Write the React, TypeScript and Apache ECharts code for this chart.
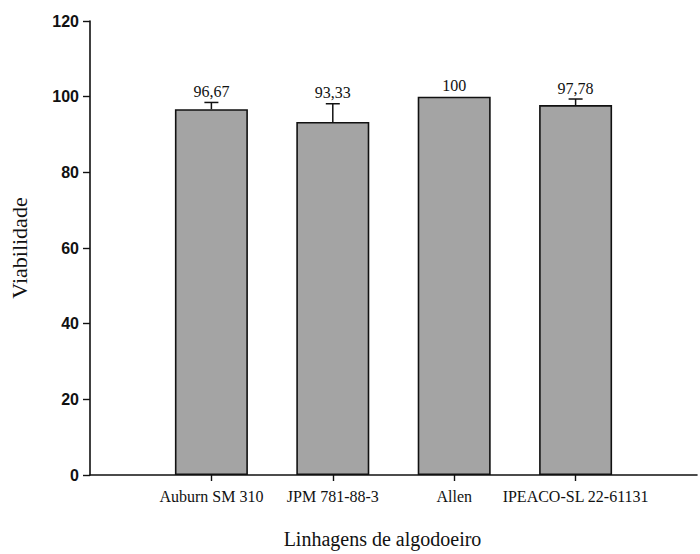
import React, { useEffect, useRef } from "react";
import * as echarts from "echarts";

// Data
const categories = ["", "Auburn SM 310", "JPM 781-88-3", "Allen", "IPEACO-SL 22-61131", ""];
const viability: (number | null)[] = [null, 96.67, 93.33, 100, 97.78, null];
const errorUp: (number | null)[] = [null, 1.8, 4.8, 0, 1.6, null];
const valueLabels = ["", "96,67", "93,33", "100", "97,78", ""];
const yMin = 0;
const yMax = 120;
const yStep = 20;
const xAxisTitle = "Linhagens de algodoeiro";
const yAxisTitle = "Viabilidade";

export default function App() {
  const ref = useRef<HTMLDivElement>(null);

  useEffect(() => {
    document.body.style.margin = "0";
    if (!ref.current) return;
    const chart = echarts.init(ref.current, null, { renderer: "svg" });

    const errData: any[] = [];
    viability.forEach((v, i) => {
      if (v !== null) errData.push([i, v, errorUp[i] ?? 0, i]);
    });

    const serif = "'Liberation Serif', 'Times New Roman', serif";
    const sans = "'Liberation Sans', Arial, sans-serif";

    chart.setOption({
      animation: false,
      backgroundColor: "#ffffff",
      grid: { left: 88, right: 3, top: 21, bottom: 78, containLabel: false },
      xAxis: {
        type: "category",
        data: categories,
        boundaryGap: false,
        name: xAxisTitle,
        nameLocation: "middle",
        nameGap: 54,
        nameTextStyle: {
          fontFamily: serif,
          fontSize: 20,
          color: "#111",
          padding: [0, 22, 0, 0],
        },
        axisLine: { show: true, lineStyle: { color: "#111", width: 1.6 } },
        axisTick: {
          show: true,
          length: 6,
          interval: (idx: number) => idx >= 1 && idx <= 4,
          lineStyle: { color: "#111", width: 1.4 },
        },
        axisLabel: {
          interval: 0,
          margin: 13,
          fontFamily: serif,
          fontSize: 16,
          color: "#111",
        },
        splitLine: { show: false },
      },
      yAxis: {
        type: "value",
        min: yMin,
        max: yMax,
        interval: yStep,
        name: yAxisTitle,
        nameLocation: "middle",
        nameGap: 60,
        nameTextStyle: { fontFamily: serif, fontSize: 22, color: "#111" },
        axisLine: { show: true, lineStyle: { color: "#111", width: 1.6 } },
        axisTick: { show: true, length: 7, lineStyle: { color: "#111", width: 1.4 } },
        axisLabel: { margin: 11, fontFamily: sans, fontSize: 16, fontWeight: "bold", color: "#111" },
        splitLine: { show: false },
      },
      series: [
        {
          type: "bar",
          data: viability,
          barWidth: 73,
          itemStyle: { color: "#a4a4a4", borderColor: "#111", borderWidth: 1.6 },
          z: 2,
        },
        {
          type: "custom",
          data: errData,
          z: 5,
          renderItem: (params: any, api: any) => {
            const x = api.value(0);
            const v = api.value(1);
            const e = api.value(2);
            const idx = api.value(3);
            const base = api.coord([x, v]);
            const top = api.coord([x, v + e]);
            const children: any[] = [];
            if (e > 0) {
              children.push({
                type: "line",
                shape: { x1: base[0], y1: base[1], x2: top[0], y2: top[1] },
                style: { stroke: "#111", lineWidth: 1.5 },
              });
              children.push({
                type: "line",
                shape: { x1: top[0] - 7, y1: top[1], x2: top[0] + 7, y2: top[1] },
                style: { stroke: "#111", lineWidth: 1.5 },
              });
            }
            children.push({
              type: "text",
              x: top[0],
              y: top[1] - 3,
              style: {
                text: valueLabels[idx],
                fontFamily: serif,
                fontSize: 16,
                fill: "#111",
                align: "center",
                verticalAlign: "bottom",
              },
            });
            return { type: "group", children };
          },
        },
      ],
    });

    return () => chart.dispose();
  }, []);

  return <div ref={ref} style={{ width: 700, height: 554 }} />;
}
